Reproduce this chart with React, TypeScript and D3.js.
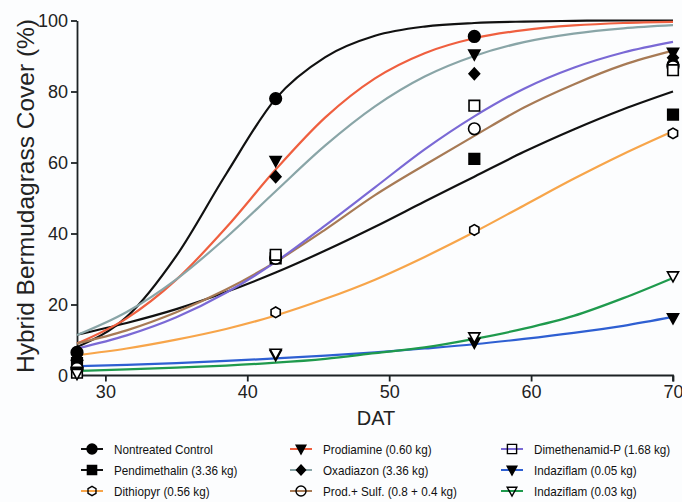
import { useEffect, useRef } from 'react';
import * as d3 from 'd3';

const fitDays = [28, 31.5, 35, 38.5, 42, 45.5, 49, 52.5, 56, 59.5, 63, 66.5, 70];
// observation days
const obsDays = [28, 42, 56, 70];

const treatments = [
  'Nontreated Control', 'Pendimethalin (3.36 kg)', 'Dithiopyr (0.56 kg)',
  'Prodiamine (0.60 kg)', 'Oxadiazon (3.36 kg)', 'Prod.+ Sulf. (0.8 + 0.4 kg)',
  'Dimethenamid-P (1.68 kg)', 'Indaziflam (0.05 kg)', 'Indaziflam (0.03 kg)',
];

// fitted curves (%)
const fitControl = [8, 16.5, 33.7, 56.7, 78, 89.7, 95.7, 98.3, 99.3, 99.7, 99.9, 100, 100];
const fitPendi = [11.5, 14.8, 18.7, 23.5, 29, 35.2, 41.9, 49, 56, 63, 69.3, 75, 80];
const fitDithio = [5.7, 7.6, 10.1, 13.1, 16.9, 21.6, 27, 33.4, 40.4, 47.9, 55.4, 62.4, 68.8];
const fitProdia = [9, 16.1, 27, 41.6, 58, 72.7, 83.7, 90.8, 95, 97.3, 98.6, 99.3, 99.6];
const fitOxa = [11.4, 17.9, 27.1, 38.8, 51.9, 64.8, 75.8, 84.2, 90, 93.9, 96.3, 97.8, 98.7];
const fitProdSulf = [9, 12.7, 17.8, 24.2, 32, 41.1, 50.8, 59.3, 67.5, 75.5, 82, 87.5, 91.5];
const fitDimeth = [7.6, 11.3, 16.4, 23.3, 32, 42.3, 53, 63.7, 73, 80.8, 86.7, 91, 94];
const fitInd05 = [2.6, 3.0, 3.5, 4.1, 4.8, 5.6, 6.5, 7.6, 8.8, 10.3, 12.0, 14.0, 16.5];
const fitInd03 = [1.3, 1.7, 2.2, 2.8, 3.6, 4.7, 6.3, 7.9, 10.3, 13.2, 16.8, 21.8, 27.5];

// observed means (%)
const obsControl = [6.5, 78, 95.5, 87.5];
const obsPendi = [3.5, 33, 61, 73.5];
const obsDithio = [1.5, 17.8, 41, 68.2];
const obsProdia = [3, 60.5, 90.5, 91];
const obsOxa = [2.5, 56, 85, 89.5];
const obsProdSulf = [2, 33, 69.5, 87];
const obsDimeth = [0.8, 34, 76, 86];
const obsInd05 = [1, 5.8, 9.3, 16.2];
const obsInd03 = [0.5, 6.2, 10.8, 28];

const yTicks = [0, 20, 40, 60, 80, 100];
const xTicks = [30, 40, 50, 60, 70];

const series = [
  { name: treatments[0], fit: fitControl, obs: obsControl, color: '#111', shape: 'circle', filled: true },
  { name: treatments[1], fit: fitPendi, obs: obsPendi, color: '#111', shape: 'square', filled: true },
  { name: treatments[2], fit: fitDithio, obs: obsDithio, color: '#f7a54a', shape: 'hexagon', filled: false },
  { name: treatments[3], fit: fitProdia, obs: obsProdia, color: '#ef5f3f', shape: 'tridown', filled: true },
  { name: treatments[4], fit: fitOxa, obs: obsOxa, color: '#89a5a7', shape: 'diamond', filled: true },
  { name: treatments[5], fit: fitProdSulf, obs: obsProdSulf, color: '#a77a55', shape: 'circle', filled: false },
  { name: treatments[6], fit: fitDimeth, obs: obsDimeth, color: '#7a69d5', shape: 'square', filled: false },
  { name: treatments[7], fit: fitInd05, obs: obsInd05, color: '#2e5fd2', shape: 'tridown', filled: true },
  { name: treatments[8], fit: fitInd03, obs: obsInd03, color: '#1f9a4d', shape: 'tridown', filled: false },
];

function markerPath(shape: string, r: number) {
  if (shape === 'circle') return d3.symbol(d3.symbolCircle, Math.PI * r * r)() as string;
  if (shape === 'square') return `M${-r},${-r}H${r}V${r}H${-r}Z`;
  if (shape === 'diamond') return `M0,${-r * 1.1}L${r},0L0,${r * 1.1}L${-r},0Z`;
  if (shape === 'tridown') return `M${-r * 1.05},${-r * 0.8}H${r * 1.05}L0,${r * 1.1}Z`;
  // hexagon
  const pts = d3.range(6).map(i => {
    const a = Math.PI / 6 + i * Math.PI / 3;
    return [r * Math.cos(a), r * Math.sin(a)];
  });
  return 'M' + pts.map(p => p.join(',')).join('L') + 'Z';
}

export default function App() {
  const ref = useRef<SVGSVGElement>(null);

  useEffect(() => {
    const width = 682, height = 502;
    const svg = d3.select(ref.current);
    svg.selectAll('*').remove();

    svg.append('rect').attr('width', width).attr('height', height).attr('fill', '#fcfdfe');

    const x = d3.scaleLinear().domain([28, 70]).range([77, 673]);
    const y = d3.scaleLinear().domain([0, 100]).range([375.5, 20.5]);

    const font = 'Liberation Sans, Arial, Helvetica, sans-serif';

    // axes
    const xAxis = svg.append('g').attr('transform', `translate(0,${y(0)})`)
      .call(d3.axisBottom(x).tickValues(xTicks).tickSize(6).tickSizeOuter(6).tickPadding(4));
    const yAxis = svg.append('g').attr('transform', `translate(${x(28)},0)`)
      .call(d3.axisLeft(y).tickValues(yTicks).tickSize(6).tickSizeOuter(0).tickPadding(3));
    [xAxis, yAxis].forEach(g => {
      g.selectAll('.domain, .tick line').attr('stroke', '#1c2224').attr('stroke-width', 1.8);
      g.selectAll('text').attr('fill', '#222').style('font-family', font).style('font-size', '18px');
    });
    xAxis.select('.domain').attr('d', `M${x(28)},0H${x(70)}V6`);

    svg.append('text').attr('x', 376).attr('y', 425).attr('text-anchor', 'middle')
      .style('font-family', font).style('font-size', '20px').attr('fill', '#222').text('DAT');
    svg.append('text').attr('transform', 'translate(34,196) rotate(-90)').attr('text-anchor', 'middle')
      .style('font-family', font).style('font-size', '24.5px').attr('fill', '#222')
      .text('Hybrid Bermudagrass Cover (%)');

    // fitted curves
    const line = d3.line<number>()
      .x((_, i) => x(fitDays[i]))
      .y(d => y(d))
      .curve(d3.curveMonotoneX);
    series.forEach(s => {
      svg.append('path').attr('d', line(s.fit)).attr('fill', 'none')
        .attr('stroke', s.color).attr('stroke-width', 2.2);
    });

    // observed points
    series.forEach(s => {
      svg.selectAll(null).data(s.obs).enter().append('path')
        .attr('transform', (d, i) => `translate(${x(obsDays[i])},${y(d)})`)
        .attr('d', markerPath(s.shape, s.shape === 'circle' ? 5.8 : 5.3))
        .attr('fill', s.filled ? '#000' : '#fff')
        .attr('stroke', '#000').attr('stroke-width', 1.6);
    });

    // legend
    const colX = [92, 301, 512];
    const rowY = [449, 470, 491];
    series.forEach((s, i) => {
      const cx = colX[Math.floor(i / 3)], cy = rowY[i % 3];
      const g = svg.append('g').attr('transform', `translate(${cx},${cy})`);
      g.append('line').attr('x1', -11).attr('x2', 11).attr('stroke', s.color).attr('stroke-width', 2);
      g.append('path').attr('d', markerPath(s.shape, s.shape === 'circle' ? 5 : 4.6))
        .attr('fill', s.filled ? '#000' : 'none').attr('stroke', '#000').attr('stroke-width', 1.4);
      g.append('text').attr('transform', 'translate(22,4.5) scale(0.9,1)')
        .style('font-family', font)
        .style('font-size', '13px').attr('fill', '#111').text(s.name);
    });
  }, []);

  return (
    <div style={{ position: 'fixed', left: 0, top: 0 }}>
      <svg ref={ref} width={682} height={502} style={{ display: 'block' }} />
    </div>
  );
}
